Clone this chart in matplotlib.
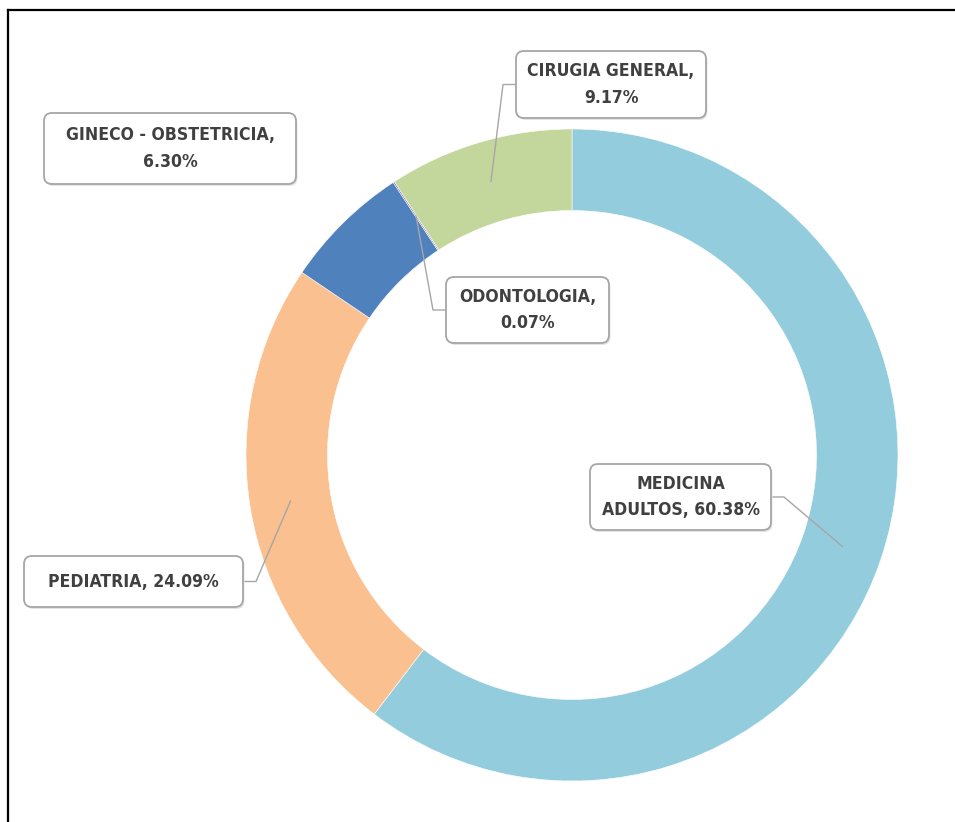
import numpy as np
import matplotlib
matplotlib.use("Agg")
import matplotlib.pyplot as plt
from matplotlib.patches import FancyBboxPatch
from matplotlib.lines import Line2D
from matplotlib import font_manager

# datos del gráfico
categories = ["MEDICINA ADULTOS", "PEDIATRIA", "GINECO - OBSTETRICIA", "ODONTOLOGIA", "CIRUGIA GENERAL"]
shares = [60.38, 24.09, 6.30, 0.07, 9.17]
colors = ["#93CDDD", "#FAC090", "#4F81BD", "#8064A2", "#C3D69B"]

W, H = 955, 822

# cajas de etiquetas en pixeles (x0, y0, x1, y1), lado de la línea guía
boxes = [(590, 464, 771, 530), (24, 556, 243, 607), (44, 113, 296, 184),
         (446, 277, 609, 343), (516, 51, 706, 118)]
leader_side = ["right", "right", None, "left", "left"]


def label_text(name, val):
    txt = f"{name}, {val:.2f}%"
    if name == "PEDIATRIA":
        return txt
    if name == "MEDICINA ADULTOS":
        return txt.replace(" ", "\n", 1)
    return txt.replace(", ", ",\n")


fonts = {(f.name, f.stretch) for f in font_manager.fontManager.ttflist}
if any(n == "DejaVu Sans" and s == "condensed" for n, s in fonts):
    fam, stretch, fsize = "DejaVu Sans", "condensed", 12.6
else:
    fam, stretch, fsize = "DejaVu Sans", "normal", 11.5


def py(y):
    # convierte y de pixel (desde arriba) a datos
    return H - y


fig = plt.figure(figsize=(W / 100, H / 100), dpi=100)
ax = fig.add_axes([0, 0, 1, 1])

cx, cy, R = 572, py(455), 326
ring = 0.25 * R
wedges, _ = ax.pie(shares, colors=colors, startangle=90, counterclock=False,
                   center=(cx, cy), radius=R,
                   wedgeprops=dict(width=ring, edgecolor="white", linewidth=0.4))

ax.set_xlim(0, W)
ax.set_ylim(0, H)
ax.set_aspect("equal")
ax.axis("off")

for w, name, val, (x0, y0, x1, y1), side in zip(wedges, categories, shares, boxes, leader_side):
    # sombra + caja redondeada
    ax.add_patch(FancyBboxPatch((x0 + 1.5, py(y1) - 2), x1 - x0, y1 - y0,
                                boxstyle="round,pad=0,rounding_size=8",
                                fc="#E4E4E4", ec="none", zorder=3))
    ax.add_patch(FancyBboxPatch((x0, py(y1)), x1 - x0, y1 - y0,
                                boxstyle="round,pad=0,rounding_size=8",
                                fc="white", ec="#A6A6A6", lw=1.3, zorder=4))
    ax.text((x0 + x1) / 2, py((y0 + y1) / 2), label_text(name, val),
            ha="center", va="center", fontsize=fsize, fontweight="bold",
            family=fam, fontstretch=stretch, color="#404040",
            linespacing=1.6, zorder=5)

    if side is None:
        continue
    ang = np.deg2rad((w.theta1 + w.theta2) / 2)
    r = R - ring / 2
    ax_, ay_ = cx + r * np.cos(ang), cy + r * np.sin(ang)
    ym = py((y0 + y1) / 2)
    if side == "left":
        bx, ex = x0, x0 - 13
    else:
        bx, ex = x1, x1 + 13
    ax.plot([bx, ex, ax_], [ym, ym, ay_], color="#A6A6A6", lw=1.0, zorder=2.5)

# marco (solo borde superior e izquierdo visibles)
fig.add_artist(Line2D([8 / W, 1], [1 - 10 / H, 1 - 10 / H], color="black", lw=1.6,
                      transform=fig.transFigure))
fig.add_artist(Line2D([8 / W, 8 / W], [0, 1 - 10 / H], color="black", lw=1.6,
                      transform=fig.transFigure))

fig.savefig("out.png", dpi=100)
